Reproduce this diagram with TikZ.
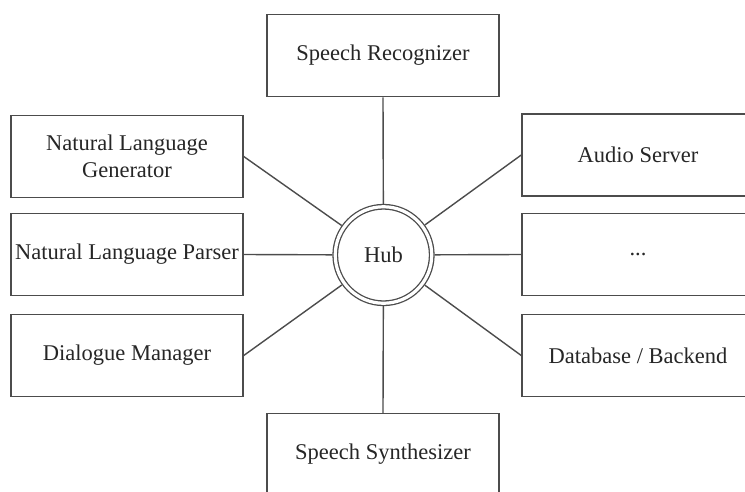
\documentclass[tikz,border=0pt]{standalone}
\usepackage{fontspec}
\setmainfont{Liberation Serif}
\begin{document}
\begin{tikzpicture}[x=1pt,y=-1pt,
  every node/.style={font=\fontsize{22.5}{27}\selectfont, text=black!85},
  comp/.style={draw=black!70, line width=1.5pt, minimum width=232pt, minimum height=82pt, inner sep=0pt, align=center},
  hubnode/.style={circle, draw=black!70, line width=1.3pt, double, double distance=3.2pt, minimum size=96.5pt, inner sep=0pt, outer sep=2.9pt},
  link/.style={draw=black!70, line width=1.4pt}]
\useasboundingbox (0,0) rectangle (745,491);
\clip (0,0) rectangle (745,491);
\node[hubnode] (hub) at (383.5,255) {Hub};
\node[comp] (sr) at (383,55.5) {Speech Recognizer};
\node[comp] (ss) at (383,454.5) {Speech Synthesizer};
\node[comp] (nlg) at (127,156.5) {Natural Language\\Generator};
\node[comp] (nlp) at (127,254.5) {Natural Language Parser};
\node[comp] (dm) at (127,355.5) {Dialogue Manager};
\node[comp] (as) at (638,155) {Audio Server};
\node[comp] (etc) at (638,254.5) {...};
\node[comp] (db) at (638,355.5) {Database / Backend};
\draw[link] (sr.south) -- (hub);
\draw[link] (ss.north) -- (hub);
\draw[link] (nlg.east) -- (hub);
\draw[link] (nlp.east) -- (hub);
\draw[link] (dm.east) -- (hub);
\draw[link] (as.west) -- (hub);
\draw[link] (etc.west) -- (hub);
\draw[link] (db.west) -- (hub);
\end{tikzpicture}
\end{document}
